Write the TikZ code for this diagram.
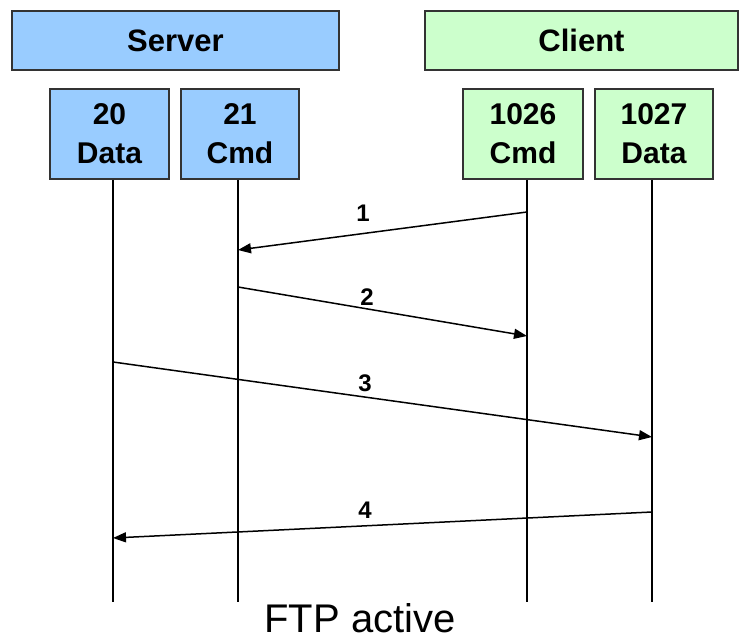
\documentclass[tikz,border=0pt]{standalone}
\usepackage{fontspec}
\setmainfont{Liberation Sans}
\usetikzlibrary{arrows.meta}
\definecolor{srvblue}{HTML}{99CCFF}
\definecolor{cligreen}{HTML}{CCFFCC}
\definecolor{edgegray}{HTML}{333333}
\begin{document}
\begin{tikzpicture}[x=1pt,y=-1pt,
  hdr/.style={draw=edgegray, line width=1.6pt, inner sep=0pt, minimum height=59pt,
    font=\bfseries\fontsize{31}{38}\selectfont},
  port/.style={draw=edgegray, line width=1.6pt, inner sep=0pt, minimum height=90pt,
    align=center, font=\bfseries\fontsize{30}{39}\selectfont},
  life/.style={line width=1.5pt, black},
  msg/.style={line width=1.5pt, black, -{Triangle[length=13pt,width=10pt]}},
  num/.style={font=\bfseries\fontsize{24}{26}\selectfont, inner sep=0pt}
]
\useasboundingbox (0,0) rectangle (740,644);
% headers
\node[hdr, fill=srvblue, minimum width=327pt] (server) at (175.5,40.5) {Server};
\node[hdr, fill=cligreen, minimum width=313pt] (client) at (581.5,40.5) {Client};
% ports
\node[port, fill=srvblue, minimum width=119pt] (p20) at (109.5,134) {20\\Data};
\node[port, fill=srvblue, minimum width=118pt] (p21) at (240,134) {21\\Cmd};
\node[port, fill=cligreen, minimum width=120pt] (p1026) at (523,134) {1026\\Cmd};
\node[port, fill=cligreen, minimum width=118pt] (p1027) at (654,134) {1027\\Data};
% lifeline ends
\coordinate (e20) at (113,602);
\coordinate (e21) at (238,602);
\coordinate (e1026) at (527,602);
\coordinate (e1027) at (652,602);
\draw[life] (p20.south -| e20) -- (e20);
\draw[life] (p21.south -| e21) -- (e21);
\draw[life] (p1026.south -| e1026) -- (e1026);
\draw[life] (p1027.south -| e1027) -- (e1027);
% message points
\coordinate (m1s) at (527,212);
\coordinate (m1e) at (238,250);
\coordinate (m2s) at (238,287);
\coordinate (m2e) at (527,336);
\coordinate (m3s) at (113,362);
\coordinate (m3e) at (652,437);
\coordinate (m4s) at (652,512);
\coordinate (m4e) at (113,538);
\draw[msg] (m1s) -- (m1e);
\draw[msg] (m2s) -- (m2e);
\draw[msg] (m3s) -- (m3e);
\draw[msg] (m4s) -- (m4e);
\node[num] (n1) at (363,213) {1};
\node[num] (n2) at (367,297) {2};
\node[num] (n3) at (365,383) {3};
\node[num] (n4) at (365,510) {4};
\node[font=\fontsize{40}{44}\selectfont, inner sep=0pt, anchor=base] (title) at (360,633) {FTP active};
\end{tikzpicture}
\end{document}
